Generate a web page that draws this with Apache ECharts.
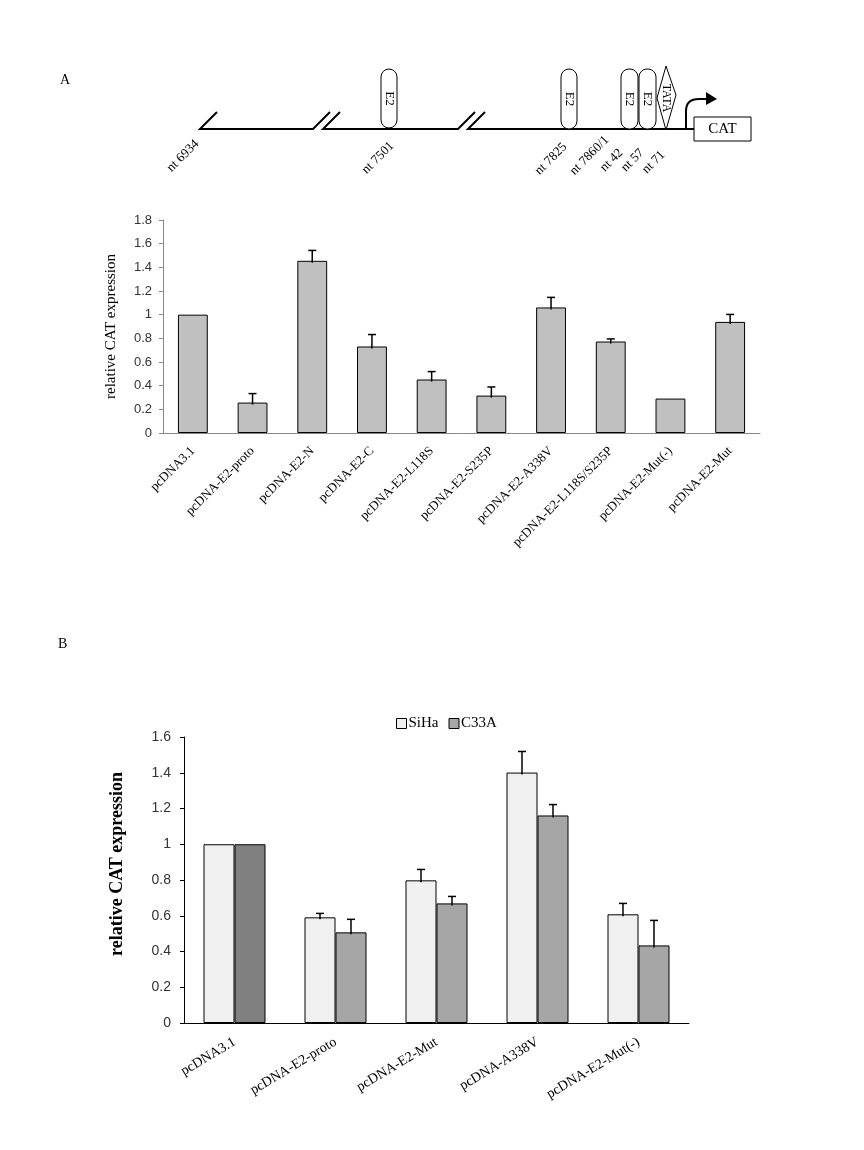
<!DOCTYPE html>
<html><head><meta charset="utf-8">
<script src="https://cdn.jsdelivr.net/npm/echarts@6/dist/echarts.min.js"></script>
<style>html,body{margin:0;padding:0;background:#fff}#c{width:864px;height:1150px}</style>
</head><body><div id="c"></div>
<script>
// ---- Panel A data ----
const catsA = ['pcDNA3.1','pcDNA-E2-proto','pcDNA-E2-N','pcDNA-E2-C','pcDNA-E2-L118S','pcDNA-E2-S235P','pcDNA-E2-A338V','pcDNA-E2-L118S/S235P','pcDNA-E2-Mut(-)','pcDNA-E2-Mut'];
const valsA = [1.0, 0.257, 1.455, 0.731, 0.452, 0.316, 1.061, 0.773, 0.291, 0.939];
const errA  = [0, 0.076, 0.088, 0.101, 0.067, 0.073, 0.085, 0.022, 0, 0.063];
const yTicksA = {min: 0, max: 1.8, interval: 0.2};
// ---- Panel B data ----
const catsB = ['pcDNA3.1','pcDNA-E2-proto','pcDNA-E2-Mut','pcDNA-A338V','pcDNA-E2-Mut(-)'];
const sihaB    = [1.0, 0.591, 0.798, 1.401, 0.608];
const sihaErrB = [0, 0.022, 0.061, 0.118, 0.061];
const c33aB    = [1.0, 0.507, 0.669, 1.161, 0.434];
const c33aErrB = [0, 0.073, 0.039, 0.061, 0.140];
const yTicksB = {min: 0, max: 1.6, interval: 0.2};
// ---- Schematic labels ----
const ntLabels = ['nt 6934','nt 7501','nt 7825','nt 7860/1','nt 42','nt 57','nt 71'];

const SERIF = '"Liberation Serif","Times New Roman",serif';
const SANS = '"Liberation Sans",Arial,sans-serif';

function errRender(offsetPx){
  return function(params, api){
    const i = api.value(0), v = api.value(1), e = api.value(2);
    if (!e) return null;
    const p0 = api.coord([i, v]), p1 = api.coord([i, v + e]);
    const x = p0[0] + offsetPx;
    return {type:'group', children:[
      {type:'line', shape:{x1:x, y1:p0[1]+2, x2:x, y2:p1[1]}, style:{stroke:'#000', lineWidth:1.5}},
      {type:'line', shape:{x1:x-4, y1:p1[1], x2:x+4, y2:p1[1]}, style:{stroke:'#000', lineWidth:1.5}}
    ]};
  };
}

// ---- schematic graphics ----
const g = [];
const L = (pts) => ({type:'polyline', shape:{points:pts}, style:{stroke:'#000', lineWidth:2, fill:null}});
g.push({type:'text', x:60, y:73, style:{text:'A', font:'14px '+SERIF, fill:'#000'}});
g.push({type:'text', x:58, y:637, style:{text:'B', font:'14px '+SERIF, fill:'#000'}});
g.push(L([[217,112],[200,129],[313,129],[330,112]]));
g.push(L([[340,112],[323,129],[458,129],[475,112]]));
g.push(L([[485,112],[468,129],[694,129]]));
const e2boxes = [[381,69,16,59],[561,69,16,60],[621,69,17,60],[639,69,17,60]];
e2boxes.forEach(b => {
  g.push({type:'rect', shape:{x:b[0], y:b[1], width:b[2], height:b[3], r:8}, style:{fill:'#fff', stroke:'#000', lineWidth:1}, z:10});
  g.push({type:'text', x:b[0]+b[2]/2, y:b[1]+b[3]/2, rotation:-Math.PI/2, style:{text:'E2', font:'13px '+SERIF, fill:'#000', align:'center', verticalAlign:'middle'}, z:11});
});
g.push({type:'polygon', shape:{points:[[666,66],[676,95],[666,130],[657,98]]}, style:{fill:'#fff', stroke:'#000', lineWidth:1}, z:10});
g.push({type:'text', x:666, y:98, rotation:-Math.PI/2, style:{text:'TATA', font:'12px '+SERIF, fill:'#000', align:'center', verticalAlign:'middle'}, z:11});
g.push(L([[686,129],[686,111]]));
g.push({type:'bezierCurve', shape:{x1:686, y1:111, cpx1:686, cpy1:99, x2:699, y2:99}, style:{stroke:'#000', lineWidth:2, fill:null}});
g.push(L([[699,99],[707,99]]));
g.push({type:'polygon', shape:{points:[[706,92],[717,99],[706,105]]}, style:{fill:'#000'}});
g.push({type:'rect', shape:{x:694, y:117, width:57, height:24}, style:{fill:'#fff', stroke:'#000', lineWidth:1}});
g.push({type:'text', x:722.5, y:129.5, style:{text:'CAT', font:'15px '+SERIF, fill:'#000', align:'center', verticalAlign:'middle'}});
const ntPos = [[197,142],[392,144],[565,145],[607,138],[621,151],[642,151],[663,153]];
ntLabels.forEach((t, i) => {
  g.push({type:'text', x:ntPos[i][0], y:ntPos[i][1], rotation:Math.PI/4, style:{text:t, font:'13px '+SERIF, fill:'#000', align:'right', verticalAlign:'middle'}});
});

const chart = echarts.init(document.getElementById('c'), null, {renderer:'canvas'});
chart.setOption({
  backgroundColor:'#fff',
  animation:false,
  graphic: g,
  legend: {
    data:['SiHa','C33A'], left:391, top:711, itemWidth:10, itemHeight:10, itemGap:10,
    icon:'rect', textStyle:{fontFamily:SERIF, fontSize:15, color:'#000', padding:[0,0,0,-3]},
    itemStyle:{borderColor:'#000', borderWidth:1}
  },
  grid: [
    {left:163, top:220, width:597, height:213},
    {left:184, top:737, width:505, height:286}
  ],
  xAxis: [
    {type:'category', gridIndex:0, data:catsA,
     axisLine:{lineStyle:{color:'#888', width:1}},
     axisTick:{inside:true, length:5, lineStyle:{color:'#888'}},
     axisLabel:{rotate:45, interval:0, margin:16, fontFamily:SERIF, fontSize:13, color:'#000'}},
    {type:'category', gridIndex:1, data:catsB,
     axisLine:{lineStyle:{color:'#000', width:1}},
     axisTick:{inside:true, length:5, lineStyle:{color:'#000'}},
     axisLabel:{rotate:31, interval:0, margin:18, fontFamily:SERIF, fontSize:14, color:'#000'}}
  ],
  yAxis: [
    {type:'value', gridIndex:0, min:yTicksA.min, max:yTicksA.max, interval:yTicksA.interval,
     name:'relative CAT expression', nameLocation:'middle', nameGap:44,
     nameTextStyle:{fontFamily:SERIF, fontSize:15, color:'#000'},
     axisLine:{show:true, lineStyle:{color:'#888'}},
     axisTick:{show:true, length:4, lineStyle:{color:'#888'}},
     splitLine:{show:false},
     axisLabel:{fontFamily:SANS, fontSize:13, color:'#333', margin:11}},
    {type:'value', gridIndex:1, min:yTicksB.min, max:yTicksB.max, interval:yTicksB.interval,
     name:'relative CAT expression', nameLocation:'middle', nameGap:58,
     nameTextStyle:{fontFamily:SERIF, fontSize:18, fontWeight:'bold', color:'#000', padding:[0,0,0,32]},
     axisLine:{show:true, lineStyle:{color:'#000'}},
     axisTick:{show:true, length:4, lineStyle:{color:'#000'}},
     splitLine:{show:false},
     axisLabel:{fontFamily:SANS, fontSize:14, color:'#333', margin:13}}
  ],
  series: [
    {type:'bar', xAxisIndex:0, yAxisIndex:0, data:valsA, barWidth:'50%',
     itemStyle:{color:'#c0c0c0', borderColor:'#000', borderWidth:1}},
    {type:'custom', xAxisIndex:0, yAxisIndex:0, renderItem:errRender(0), z:5,
     encode:{x:0, y:1}, data:valsA.map((v,i)=>[i, v, errA[i]])},
    {name:'SiHa', type:'bar', xAxisIndex:1, yAxisIndex:1, data:sihaB, barWidth:31, barGap:'0%',
     itemStyle:{color:'#f0f0f0', borderColor:'#000', borderWidth:1}},
    {name:'C33A', type:'bar', xAxisIndex:1, yAxisIndex:1, barWidth:31, barGap:'0%',
     data:c33aB.map((v,i)=> i===0 ? {value:v, itemStyle:{color:'#808080'}} : v),
     itemStyle:{color:'#a6a6a6', borderColor:'#000', borderWidth:1}},
    {type:'custom', xAxisIndex:1, yAxisIndex:1, renderItem:errRender(-15.5), z:5,
     encode:{x:0, y:1}, data:sihaB.map((v,i)=>[i, v, sihaErrB[i]])},
    {type:'custom', xAxisIndex:1, yAxisIndex:1, renderItem:errRender(15.5), z:5,
     encode:{x:0, y:1}, data:c33aB.map((v,i)=>[i, v, c33aErrB[i]])}
  ]
});
</script>
</body></html>
